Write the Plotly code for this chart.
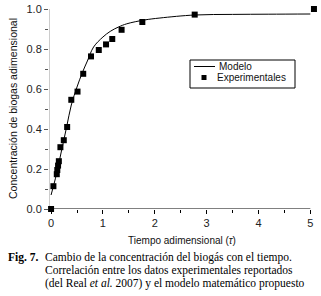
import plotly.graph_objects as go

exp_t = [0.0, 0.045, 0.11, 0.12, 0.135, 0.15, 0.18, 0.245, 0.31, 0.39, 0.51, 0.62, 0.77, 0.92, 1.06, 1.18, 1.36, 1.76, 2.77, 5.07]
exp_y = [0.0, 0.114, 0.174, 0.195, 0.217, 0.239, 0.309, 0.344, 0.41, 0.546, 0.587, 0.676, 0.763, 0.795, 0.823, 0.85, 0.896, 0.935, 0.972, 1.0]

# Model curve
mod_t = [0.0, 0.1, 0.2, 0.3, 0.39, 0.5, 0.6, 0.7, 0.82, 1.0, 1.14, 1.3, 1.46, 1.8, 2.1, 2.77, 3.5, 4.2, 5.0]
mod_y = [0.07, 0.17, 0.29, 0.41, 0.52, 0.61, 0.68, 0.74, 0.81, 0.86, 0.888, 0.91, 0.926, 0.945, 0.955, 0.97, 0.973, 0.974, 0.975]

x_ticks = [0, 1, 2, 3, 4, 5]
y_ticks = [0.0, 0.2, 0.4, 0.6, 0.8, 1.0]
legend_names = ["Modelo", "Experimentales"]

W, H = 321, 296
ML, MR, MT, MB = 49, 6, 8, 87
PW, PH = W - ML - MR, H - MT - MB
X_RANGE = [-0.04, 5.09]
Y_RANGE = [0, 1.005]


def px(X):
    return (X - ML) / PW


def py(Y):
    return 1 - (Y - MT) / PH


fig = go.Figure()
fig.add_trace(go.Scatter(x=mod_t, y=mod_y, mode="lines", name=legend_names[0],
                         line=dict(color="black", width=1, shape="spline"),
                         cliponaxis=False, showlegend=False))
fig.add_trace(go.Scatter(x=exp_t, y=exp_y, mode="markers", name=legend_names[1],
                         marker=dict(symbol="square", size=6, color="black"),
                         cliponaxis=False, showlegend=False))

tickfont = dict(family="Liberation Sans, Arial", size=11, color="#222")
fig.update_layout(
    width=W, height=H,
    margin=dict(l=ML, r=MR, t=MT, b=MB),
    paper_bgcolor="white", plot_bgcolor="white",
    showlegend=False,
    xaxis=dict(range=X_RANGE, tickvals=x_ticks, ticks="outside", ticklen=4,
               tickcolor="black", showline=False,
               showgrid=False, zeroline=False, tickfont=tickfont, automargin=False,
               minor=dict(dtick=0.5, ticks="outside", ticklen=3, tickcolor="black"),
               title=dict(text="Tiempo adimensional (<i>τ</i>)", standoff=8,
                          font=dict(family="Liberation Sans, Arial", size=10, color="#111"))),
    yaxis=dict(range=Y_RANGE, tickvals=y_ticks, tickformat=".1f", ticks="outside", ticklen=4,
               tickcolor="#555", showline=False,
               showgrid=False, zeroline=False, tickfont=tickfont, automargin=False,
               minor=dict(dtick=0.1, ticks="outside", ticklen=3, tickcolor="#555"),
               title=dict(text="Concentración de biogas adimensional", standoff=6,
                          font=dict(family="Liberation Sans, Arial", size=10.5, color="#111"))),
)

# Axis lines (x axis ends at 5, y axis ends at 1.0 as in the original)
fig.add_shape(type="line", xref="x", yref="y", x0=X_RANGE[0], x1=x_ticks[-1], y0=0, y1=0,
              line=dict(color="black", width=1), layer="below")
fig.add_shape(type="line", xref="x", yref="y", x0=X_RANGE[0], x1=X_RANGE[0], y0=0, y1=y_ticks[-1],
              line=dict(color="#999", width=1), layer="below")

# Legend (drawn manually to match the compact boxed legend)
fig.add_shape(type="rect", xref="paper", yref="paper", x0=px(190), x1=px(295), y0=py(88), y1=py(60),
              line=dict(color="black", width=1), fillcolor="white", layer="above")
fig.add_shape(type="line", xref="paper", yref="paper", x0=px(194), x1=px(215), y0=py(66.5), y1=py(66.5),
              line=dict(color="black", width=1), layer="above")
fig.add_shape(type="rect", xref="paper", yref="paper", x0=px(201.5), x1=px(206.5), y0=py(80), y1=py(75),
              line=dict(color="black", width=0), fillcolor="black", layer="above")
lfont = dict(family="Liberation Sans, Arial", size=10, color="#111")
fig.add_annotation(xref="paper", yref="paper", x=px(218), y=py(66.5), xanchor="left", yanchor="middle",
                   text=legend_names[0], showarrow=False, font=lfont, borderpad=0)
fig.add_annotation(xref="paper", yref="paper", x=px(216), y=py(77.5), xanchor="left", yanchor="middle",
                   text=legend_names[1], showarrow=False, font=lfont, borderpad=0)

# Caption
serif = dict(family="Liberation Serif, Times New Roman", size=11.5, color="black")
fig.add_annotation(xref="paper", yref="paper", x=px(7), y=py(257), xanchor="left", yanchor="middle",
                   text="<b>Fig. 7.</b>", showarrow=False, font=serif, borderpad=0)
lines = ["Cambio de la concentración del biogás con el tiempo.",
         "Correlación entre los datos experimentales reportados",
         "(del Real <i>et al.</i> 2007) y el modelo matemático propuesto"]
for i, ln in enumerate(lines):
    fig.add_annotation(xref="paper", yref="paper", x=px(44), y=py(257 + 13 * i),
                       xanchor="left", yanchor="middle", text=ln, showarrow=False,
                       font=serif, borderpad=0)

fig.write_html("out.html", config={"displayModeBar": False},
               post_script="document.body.style.margin='0';")
